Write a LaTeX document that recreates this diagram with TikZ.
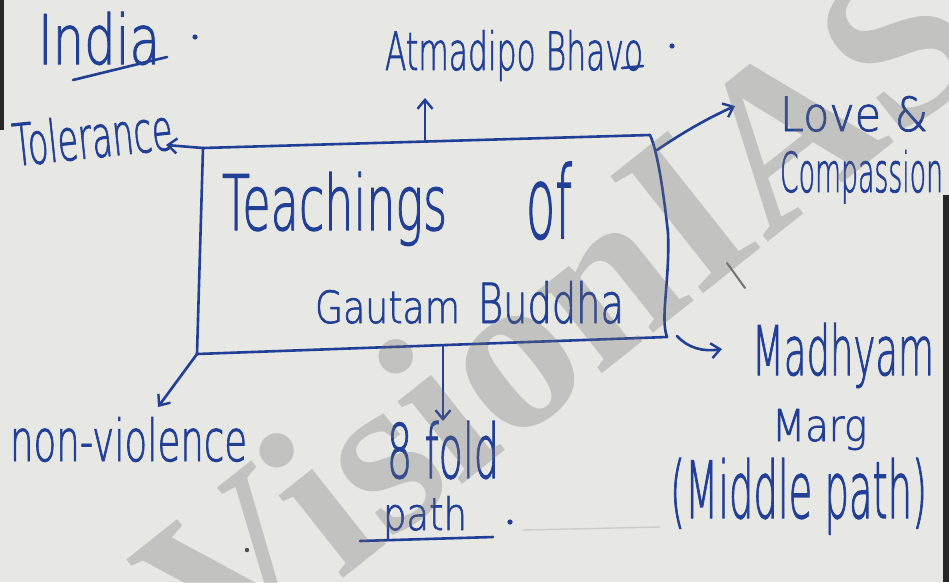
\documentclass[tikz,border=0pt]{standalone}
\usepackage{fontspec}
\usepackage{graphicx}
\usetikzlibrary{arrows.meta}
% light sans for the hand lettering, slightly emboldened to match pen strokes
\IfFontExistsTF{DejaVu Sans ExtraLight}
  {\newfontfamily\hand{DejaVu Sans ExtraLight}[FakeBold=1.6]}
  {\newfontfamily\hand{Carlito}}
\newfontfamily\markfont{Liberation Serif}[BoldFont={* Bold}]
\definecolor{paper}{HTML}{E7E7E4}
\definecolor{ink}{HTML}{213F96}
\definecolor{wmark}{HTML}{6E6E6E}
% hand-lettered word scaled to a given width and height above the baseline
\newcommand{\hw}[3]{\resizebox{#1}{#2}{\hand #3}}
\tikzset{
  hwtext/.style={inner sep=0pt, outer sep=0pt, text=ink, anchor=base west},
  inkline/.style={draw=ink, line width=2.6pt, line cap=round, line join=round},
  inkarrow/.style={inkline, -{Straight Barb[length=9pt,width=15pt,line width=2.4pt]}},
  inkdot/.style={fill=ink, draw=none}
}
\begin{document}
\begin{tikzpicture}[x=1pt,y=-1pt]
  % paper
  \fill[paper] (0,0) rectangle (949,582);
  \useasboundingbox (0,0) rectangle (949,582);
  \fill[black!85] (0,0) rectangle (4,130);
  \fill[black!85] (943,195) rectangle (949,582);

  % corners of the central box
  \coordinate (tl) at (203,148);
  \coordinate (tr) at (650,135);
  \coordinate (br) at (667,337);
  \coordinate (bl) at (197,354);
  \coordinate (topmid) at (425,141);
  \coordinate (botmid) at (443,346);

  % central box
  \draw[inkline] (bl) -- (tl) -- (tr)
    .. controls (657,150) and (663,187) .. (668,233)
    .. controls (670,280) and (660,318) .. (br) -- cycle;

  % box text
  \node[hwtext] (teach) at (222,230) {\hw{225pt}{58pt}{Teachings}};
  \node[hwtext] (of) at (526,238) {\hw{46pt}{76pt}{of}};
  \node[hwtext] (gautam) at (315,323) {\hw{145pt}{33pt}{Gautam}};
  \node[hwtext] (buddha) at (478,323) {\hw{146pt}{42pt}{Buddha}};

  % surrounding labels
  \node[hwtext] (india) at (38,64) {\hw{122pt}{52pt}{India}};
  \node[hwtext] (atma) at (385,70) {\hw{258pt}{40pt}{Atmadipo Bhavo}};
  \node[hwtext, rotate=6] (tol) at (15,166) {\hw{160pt}{44pt}{Tolerance}};
  \node[hwtext] (love) at (780,131) {\hw{148pt}{35pt}{Love \&}};
  \node[hwtext] (comp) at (780,192) {\hw{163pt}{42pt}{Compassion}};
  \node[hwtext] (madh) at (752,375) {\hw{182pt}{52pt}{Madhyam}};
  \node[hwtext] (marg) at (772,441) {\hw{95pt}{32pt}{Marg}};
  \node[hwtext] (middle) at (670,518) {\hw{257pt}{60pt}{(Middle path)}};
  \node[hwtext] (nonv) at (10,461) {\hw{237pt}{44pt}{non-violence}};
  \node[hwtext] (fold) at (387,478) {\hw{112pt}{57pt}{8 fold}};
  \node[hwtext] (path) at (383,530) {\hw{84pt}{34pt}{path}};

  % arrow ends
  \coordinate (atmaend) at (425,98);
  \coordinate (tolend) at (166,145);
  \coordinate (loveend) at (735,106);
  \coordinate (madhend) at (722,349);
  \coordinate (foldend) at (443,421);
  \coordinate (nonvend) at (158,407);

  % connectors
  \draw[inkarrow] (topmid) -- (atmaend);
  \draw[inkarrow] (tl) -- (tolend);
  \draw[inkarrow] (657,150) .. controls (682,133) and (708,118) .. (loveend);
  \draw[inkarrow] (677,336) .. controls (688,348) and (703,352) .. (madhend);
  \draw[inkarrow] (botmid) -- (foldend);
  \draw[inkarrow] (bl) -- (nonvend);

  % underlines and full stops
  \draw[inkline] (73,80) -- (167,57);
  \draw[inkline] (622,68) -- (643,66);
  \draw[inkline] (360,541) -- (493,537);
  \fill[inkdot] (195,37) circle (2.6);
  \fill[inkdot] (672,46) circle (2.6);
  \fill[inkdot] (510,522) circle (2.6);
  \fill[black!70] (247,550) circle (2.2);

  % stray pen and pencil marks
  \draw[line width=2pt, line cap=round, draw=black!55] (727,263) -- (745,288);
  \draw[line width=1.4pt, line cap=round, draw=black!20] (523,530) -- (660,527);

  % watermark
  \node[inner sep=0pt, anchor=base west, rotate=38.4, text=wmark, opacity=0.3,
        font=\markfont\bfseries\fontsize{228pt}{228pt}\selectfont] (wm) at (217,679) {VisionIAS};
\end{tikzpicture}
\end{document}
